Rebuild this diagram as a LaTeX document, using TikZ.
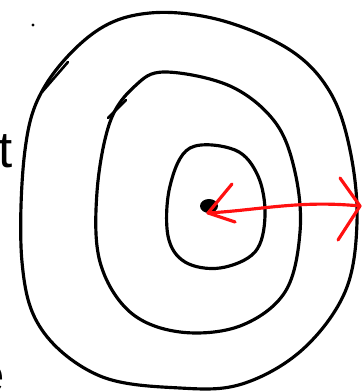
\documentclass[tikz,border=0pt]{standalone}
\usepackage{fontspec}
\setmainfont{Liberation Sans}
\usetikzlibrary{positioning,calc}
\definecolor{inkRed}{HTML}{FF1010}
\tikzset{
  ring/.style={line width=1.8pt, black, line cap=round, line join=round},
  stroke/.style={line width=1.5pt, black, line cap=round},
  redarr/.style={line width=1.8pt, inkRed, line cap=round, line join=round},
  frag/.style={font=\fontsize{29}{30}\selectfont, inner sep=0pt, anchor=base west}
}
\begin{document}
\begin{tikzpicture}[x=0.02cm,y=-0.02cm]
  \useasboundingbox (0,0) rectangle (364,391);
  % outer ring
  \draw[ring] plot[smooth cycle, tension=0.6] coordinates {(150,13) (220,20) (290,50) (330,92)
    (350,150) (357,222) (345,292) (302,350) (242,384) (180,388) (100,376) (42,330) (22,262)
    (25,150) (45,86) (95,32)};
  \draw[stroke] (42,92) -- (68,62);
  % middle ring
  \draw[ring] plot[smooth cycle, tension=0.6] coordinates {(165,72) (230,86) (275,122) (295,172)
    (300,232) (285,292) (240,326) (180,332) (130,312) (100,262) (97,192) (110,122) (135,86)};
  \draw[stroke] (108,118) -- (126,100);
  % inner ring
  \draw[ring] plot[smooth cycle, tension=0.6] coordinates {(190,148) (235,150) (258,176)
    (265,216) (255,252) (220,268) (185,262) (168,236) (170,186)};
  % centre
  \fill (209,206) ellipse [x radius=9, y radius=7];
  \coordinate (c) at (208,213);
  \coordinate (e) at (360,206);
  \draw[redarr] (c) .. controls (260,210) and (300,200) .. (e);
  \draw[redarr] (232,184) -- (c) -- (235,222);
  \draw[redarr] (340,178) -- (e) -- (338,240);
  % text fragments at the left edge
  \fill (33,25) circle (1.6);
  \node[frag] (t) at (-2,168) {t};
  \node[frag] (e2) at (-24,392) {e};
\end{tikzpicture}
\end{document}
